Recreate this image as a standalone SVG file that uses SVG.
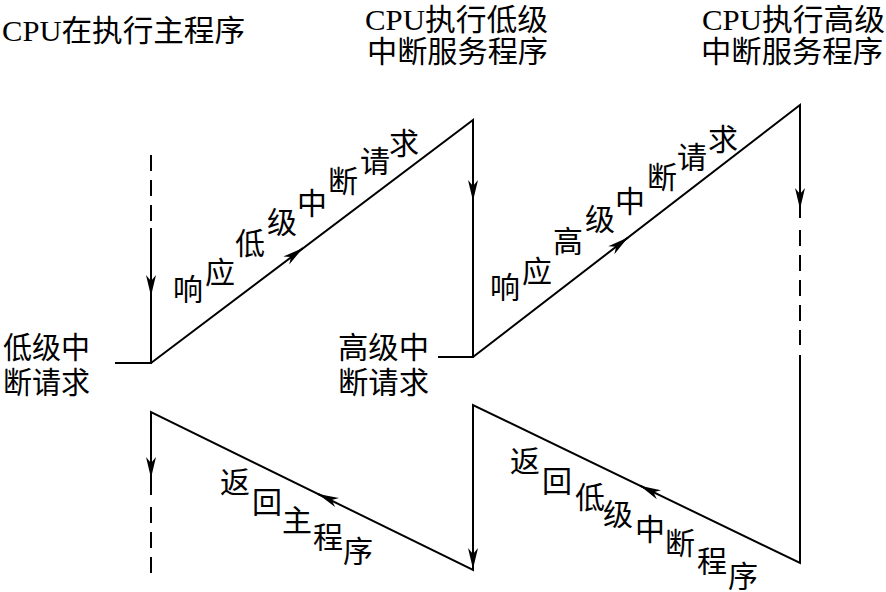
<svg xmlns="http://www.w3.org/2000/svg" width="886" height="592" viewBox="0 0 886 592">
<style>
  .ln { fill: none; stroke: #000; stroke-width: 2; }
  .dash { fill: none; stroke: #000; stroke-width: 2; stroke-dasharray: 16 9; }
  .arr { fill: none; stroke: #000; stroke-width: 2; marker-end: url(#ah); }
  text { font-family: "Liberation Serif", "Noto Sans CJK SC", serif; fill: #000; }
  .t { font-size: 30px; }
  .c { font-size: 30px; text-anchor: middle; dominant-baseline: central; }
</style>
<defs>
  <marker id="ah" viewBox="-21 -5.5 21 11" refX="0" refY="0" markerWidth="21" markerHeight="11" markerUnits="userSpaceOnUse" orient="auto">
    <path d="M0,0 L-21,-5 L-15,0 L-21,5 Z" fill="#000"/>
  </marker>
</defs>
<rect width="886" height="592" fill="#fff"/>

<g id="title-main">
  <text class="t" x="2" y="41" textLength="243" lengthAdjust="spacingAndGlyphs">CPU在执行主程序</text>
</g>
<g id="title-low">
  <text class="t" x="365" y="30" textLength="183" lengthAdjust="spacingAndGlyphs">CPU执行低级</text>
  <text class="t" x="367" y="62" textLength="181" lengthAdjust="spacingAndGlyphs">中断服务程序</text>
</g>
<g id="title-high">
  <text class="t" x="702" y="30" textLength="183" lengthAdjust="spacingAndGlyphs">CPU执行高级</text>
  <text class="t" x="701" y="62" textLength="182" lengthAdjust="spacingAndGlyphs">中断服务程序</text>
</g>
<g id="label-low-req">
  <text class="t" x="3" y="358" textLength="87" lengthAdjust="spacingAndGlyphs">低级中</text>
  <text class="t" x="3" y="393" textLength="87" lengthAdjust="spacingAndGlyphs">断请求</text>
</g>
<g id="label-high-req">
  <text class="t" x="338" y="358" textLength="91" lengthAdjust="spacingAndGlyphs">高级中</text>
  <text class="t" x="338" y="393" textLength="91" lengthAdjust="spacingAndGlyphs">断请求</text>
</g>

<g id="label-resp-low">
  <text class="c" x="188" y="289">响</text>
  <text class="c" x="220" y="272">应</text>
  <text class="c" x="250" y="243">低</text>
  <text class="c" x="282" y="222">级</text>
  <text class="c" x="312" y="203">中</text>
  <text class="c" x="343" y="181">断</text>
  <text class="c" x="375" y="161">请</text>
  <text class="c" x="404" y="143">求</text>
</g>
<g id="label-resp-high">
  <text class="c" x="505" y="287">响</text>
  <text class="c" x="537" y="271">应</text>
  <text class="c" x="568" y="241">高</text>
  <text class="c" x="600" y="219">级</text>
  <text class="c" x="630" y="201">中</text>
  <text class="c" x="662" y="177">断</text>
  <text class="c" x="692" y="157">请</text>
  <text class="c" x="723" y="139">求</text>
</g>
<g id="label-ret-main">
  <text class="c" x="235" y="482">返</text>
  <text class="c" x="267" y="502">回</text>
  <text class="c" x="297" y="520">主</text>
  <text class="c" x="328" y="537">程</text>
  <text class="c" x="358" y="551">序</text>
</g>
<g id="label-ret-low">
  <text class="c" x="525" y="461">返</text>
  <text class="c" x="557" y="481">回</text>
  <text class="c" x="590" y="497">低</text>
  <text class="c" x="618" y="514">级</text>
  <text class="c" x="650" y="529">中</text>
  <text class="c" x="680" y="543">断</text>
  <text class="c" x="712" y="561">程</text>
  <text class="c" x="743" y="576">序</text>
</g>

<g id="connectors">
  <path class="dash" d="M151,155 V224"/>
  <path class="ln" d="M151,228 V363 H115 M151,363 L473,120 V357 H438 M473,357 L800,105 V218"/>
  <path class="dash" d="M800,230 V345"/>
  <path class="ln" d="M800,355 V563 L473,405 V570 L151,412 V495"/>
  <path class="dash" d="M151,507 V577"/>
  <path class="arr" d="M151,283 L151,296"/>
  <path class="arr" d="M473,188 L473,201"/>
  <path class="arr" d="M800,196 L800,209"/>
  <path class="arr" d="M151,465 L151,478"/>
  <path class="arr" d="M473,556 L473,569"/>
  <path class="arr" d="M292.6,255.8 L303,248"/>
  <path class="arr" d="M617.7,245.4 L628,237.5"/>
  <path class="arr" d="M329.7,499.2 L318,494"/>
  <path class="arr" d="M651.7,491.3 L640,485.7"/>
</g>
</svg>
